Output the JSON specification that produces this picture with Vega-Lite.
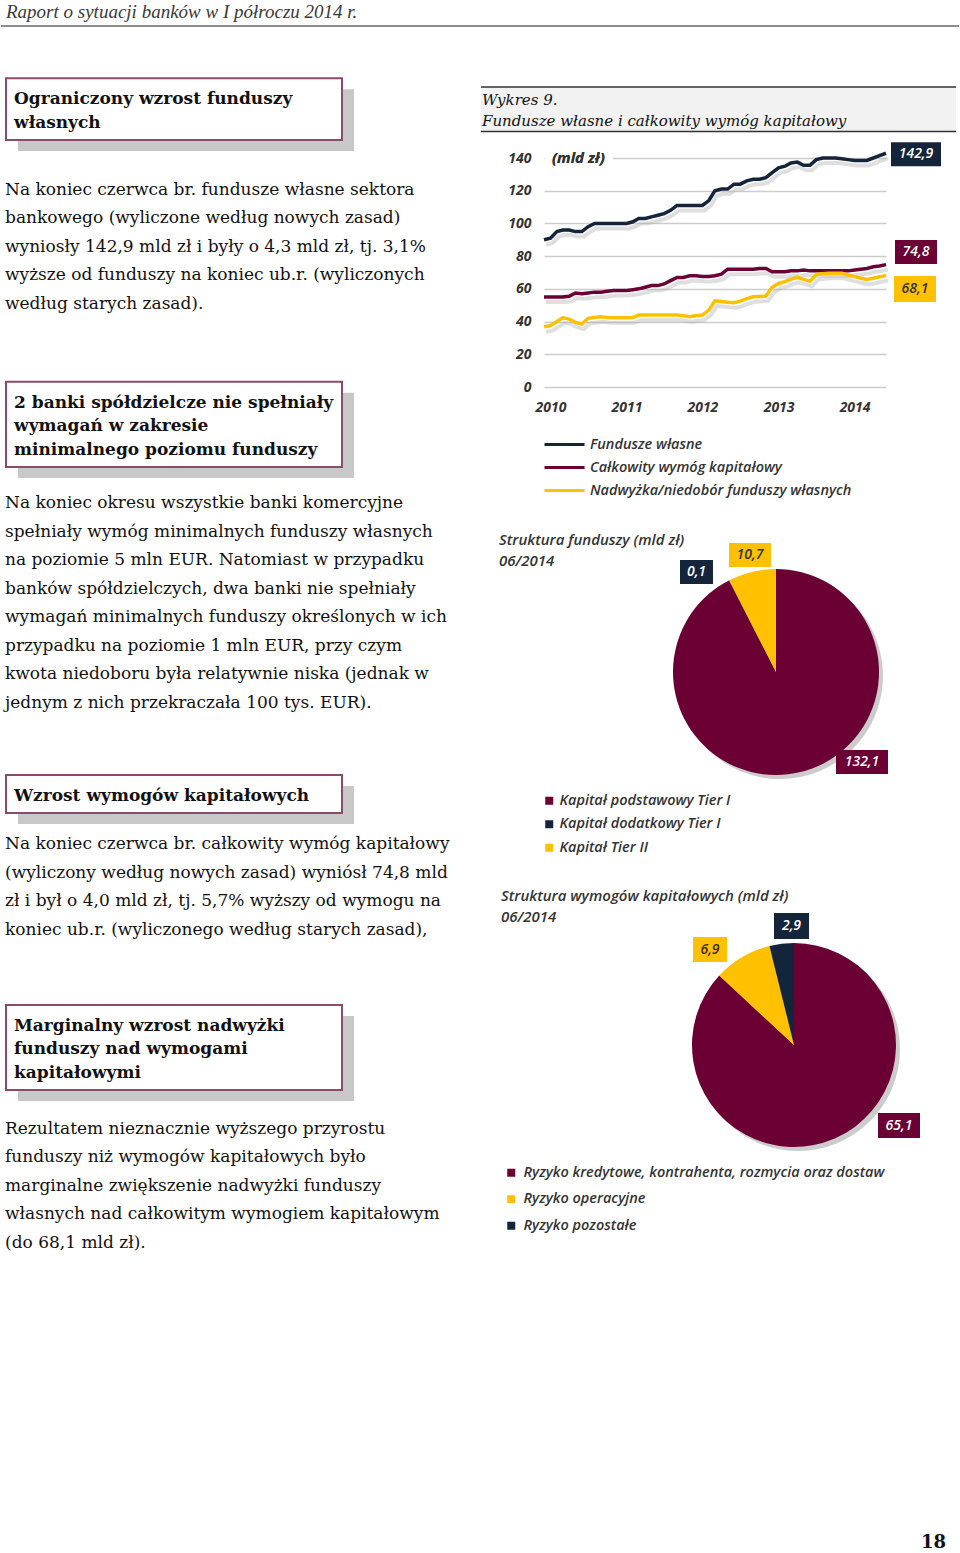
{
  "$schema": "https://vega.github.io/schema/vega-lite/v6.json",
  "background": "white",
  "padding": 0,
  "spacing": 68,
  "bounds": "flush",
  "config": {
    "view": {"stroke": null},
    "locale": {"number": {"decimal": ",", "thousands": " ", "grouping": [3], "currency": ["", " zł"]}}
  },
  "datasets": {
    "boxes": [
      {"h": "Ograniczony wzrost funduszy|własnych", "top": -4.095, "bottom": -1.93},
      {"h": "2 banki spółdzielcze nie spełniały|wymagań w zakresie|minimalnego poziomu funduszy", "top": 6.551, "bottom": 9.544},
      {"h": "Wzrost wymogów kapitałowych", "top": 20.351, "bottom": 21.684},
      {"h": "Marginalny wzrost nadwyżki|funduszy nad wymogami|kapitałowymi", "top": 28.421, "bottom": 31.404}
    ],
    "paras": [
      {"p": "Na koniec czerwca br. fundusze własne sektora|bankowego (wyliczone według nowych zasad)|wyniosły 142,9 mld zł i były o 4,3 mld zł, tj. 3,1%|wyższe od funduszy na koniec ub.r. (wyliczonych|według starych zasad).", "line": 0},
      {"p": "Na koniec okresu wszystkie banki komercyjne|spełniały wymóg minimalnych funduszy własnych|na poziomie 5 mln EUR. Natomiast w przypadku|banków spółdzielczych, dwa banki nie spełniały|wymagań minimalnych funduszy określonych w ich|przypadku na poziomie 1 mln EUR, przy czym|kwota niedoboru była relatywnie niska (jednak w|jednym z nich przekraczała 100 tys. EUR).", "line": 11},
      {"p": "Na koniec czerwca br. całkowity wymóg kapitałowy|(wyliczony według nowych zasad) wyniósł 74,8 mld|zł i był o 4,0 mld zł, tj. 5,7% wyższy od wymogu na|koniec ub.r. (wyliczonego według starych zasad),", "line": 22.96},
      {"p": "Rezultatem nieznacznie wyższego przyrostu|funduszy niż wymogów kapitałowych było|marginalne zwiększenie nadwyżki funduszy|własnych nad całkowitym wymogiem kapitałowym|(do 68,1 mld zł).", "line": 32.93}
    ],
    "lines": [
      {"d": "2009-12-01", "f": 90, "w": 55, "n": 36.8},
      {"d": "2010-01-01", "f": 91, "w": 55, "n": 37.5},
      {"d": "2010-02-01", "f": 95, "w": 55, "n": 40},
      {"d": "2010-03-01", "f": 96, "w": 55, "n": 42.3},
      {"d": "2010-04-01", "f": 96, "w": 55.5, "n": 41.5},
      {"d": "2010-05-01", "f": 95, "w": 57.5, "n": 39.5},
      {"d": "2010-06-01", "f": 95, "w": 57, "n": 38.5},
      {"d": "2010-07-01", "f": 98, "w": 57.5, "n": 42},
      {"d": "2010-08-01", "f": 100, "w": 58, "n": 42.5},
      {"d": "2010-09-01", "f": 100, "w": 58, "n": 43},
      {"d": "2010-10-01", "f": 100, "w": 58.5, "n": 42.5},
      {"d": "2010-11-01", "f": 100, "w": 59, "n": 42.3},
      {"d": "2010-12-01", "f": 100, "w": 59, "n": 42.3},
      {"d": "2011-01-01", "f": 100, "w": 59, "n": 42.3},
      {"d": "2011-02-01", "f": 101, "w": 59.5, "n": 42.5},
      {"d": "2011-03-01", "f": 103, "w": 60, "n": 44},
      {"d": "2011-04-01", "f": 103, "w": 61, "n": 44},
      {"d": "2011-05-01", "f": 104, "w": 62, "n": 44},
      {"d": "2011-06-01", "f": 105, "w": 62, "n": 44},
      {"d": "2011-07-01", "f": 106, "w": 63, "n": 44},
      {"d": "2011-08-01", "f": 108, "w": 65, "n": 44},
      {"d": "2011-09-01", "f": 111, "w": 67, "n": 44},
      {"d": "2011-10-01", "f": 111, "w": 67, "n": 43.5},
      {"d": "2011-11-01", "f": 111, "w": 68, "n": 43},
      {"d": "2011-12-01", "f": 111, "w": 68, "n": 43.5},
      {"d": "2012-01-01", "f": 111, "w": 67.5, "n": 44},
      {"d": "2012-02-01", "f": 114, "w": 67.5, "n": 47},
      {"d": "2012-03-01", "f": 120, "w": 68, "n": 52.7},
      {"d": "2012-04-01", "f": 121, "w": 69, "n": 52.3},
      {"d": "2012-05-01", "f": 121, "w": 72, "n": 51.8},
      {"d": "2012-06-01", "f": 124, "w": 72, "n": 51.5},
      {"d": "2012-07-01", "f": 124, "w": 72, "n": 52.5},
      {"d": "2012-08-01", "f": 126, "w": 72, "n": 54},
      {"d": "2012-09-01", "f": 127, "w": 72, "n": 55.2},
      {"d": "2012-10-01", "f": 127, "w": 72.5, "n": 55.4},
      {"d": "2012-11-01", "f": 128, "w": 72.5, "n": 55.6},
      {"d": "2012-12-01", "f": 131, "w": 70.5, "n": 61},
      {"d": "2013-01-01", "f": 134, "w": 70.5, "n": 63.3},
      {"d": "2013-02-01", "f": 135, "w": 70.5, "n": 64.5},
      {"d": "2013-03-01", "f": 137, "w": 71, "n": 66},
      {"d": "2013-04-01", "f": 137.5, "w": 71, "n": 67},
      {"d": "2013-05-01", "f": 135.5, "w": 71.5, "n": 65.8},
      {"d": "2013-06-01", "f": 135.5, "w": 71, "n": 64.6},
      {"d": "2013-07-01", "f": 139, "w": 71, "n": 68.8},
      {"d": "2013-08-01", "f": 140, "w": 71, "n": 69.2},
      {"d": "2013-09-01", "f": 140, "w": 71, "n": 69.5},
      {"d": "2013-10-01", "f": 140, "w": 71, "n": 69.5},
      {"d": "2013-11-01", "f": 139.5, "w": 71, "n": 69.5},
      {"d": "2013-12-01", "f": 139, "w": 71, "n": 68.5},
      {"d": "2014-01-01", "f": 138.5, "w": 71.5, "n": 67.5},
      {"d": "2014-02-01", "f": 138.5, "w": 72, "n": 66.5},
      {"d": "2014-03-01", "f": 138.5, "w": 72.5, "n": 65.8},
      {"d": "2014-04-01", "f": 140, "w": 73.5, "n": 66.5},
      {"d": "2014-05-01", "f": 141.5, "w": 74, "n": 67.4},
      {"d": "2014-06-01", "f": 142.9, "w": 74.8, "n": 68.1}
    ],
    "pie1": [
      {"cat": "Kapitał podstawowy Tier I", "v": 132.1, "i": 1},
      {"cat": "Kapitał dodatkowy Tier I", "v": 0.1, "i": 2},
      {"cat": "Kapitał Tier II", "v": 10.7, "i": 3}
    ],
    "pie2": [
      {"cat": "Ryzyko kredytowe, kontrahenta, rozmycia oraz dostaw", "v": 65.1, "i": 1},
      {"cat": "Ryzyko operacyjne", "v": 6.9, "i": 2},
      {"cat": "Ryzyko pozostałe", "v": 2.9, "i": 3}
    ]
  },
  "hconcat": [
    {
      "width": 475,
      "height": 1553,
      "layer": [
        {
          "data": {"values": [{"t": "Raport o sytuacji banków w I półroczu 2014 r."}]},
          "mark": {"type": "text", "align": "left", "baseline": "alphabetic", "font": "Liberation Serif", "fontStyle": "italic", "fontSize": 19, "fill": "#3a3a3a"},
          "encoding": {
            "x": {"datum": 5, "type": "quantitative", "scale": {"domain": [0, 475], "nice": false, "zero": false}, "axis": null},
            "y": {"datum": -6.21, "type": "quantitative", "scale": {"domain": [-6.842, 47.649], "reverse": true, "nice": false, "zero": false}, "axis": null},
            "text": {"field": "t", "type": "nominal"}
          }
        },
        {
          "data": {"values": [{}]},
          "mark": {"type": "rule", "stroke": "#666666", "strokeWidth": 1.5},
          "encoding": {
            "x": {"datum": 0, "type": "quantitative", "scale": {"domain": [0, 475], "nice": false, "zero": false}, "axis": null},
            "x2": {"datum": 958},
            "y": {"datum": -5.93, "type": "quantitative", "scale": {"domain": [-6.842, 47.649], "reverse": true, "nice": false, "zero": false}, "axis": null}
          }
        },
        {
          "data": {"name": "boxes"},
          "mark": {"type": "rect", "fill": "#c8c8c8", "xOffset": 12, "x2Offset": 12, "yOffset": 11, "y2Offset": 11},
          "encoding": {
            "x": {"datum": 5, "type": "quantitative", "scale": {"domain": [0, 475], "nice": false, "zero": false}, "axis": null},
            "x2": {"datum": 341},
            "y": {"field": "top", "type": "quantitative", "scale": {"domain": [-6.842, 47.649], "reverse": true, "nice": false, "zero": false}, "axis": null},
            "y2": {"field": "bottom"}
          }
        },
        {
          "data": {"name": "boxes"},
          "mark": {"type": "rect", "fill": "white", "stroke": "#8c4a6c", "strokeWidth": 2},
          "encoding": {
            "x": {"datum": 5, "type": "quantitative", "scale": {"domain": [0, 475], "nice": false, "zero": false}, "axis": null},
            "x2": {"datum": 341},
            "y": {"field": "top", "type": "quantitative", "scale": {"domain": [-6.842, 47.649], "reverse": true, "nice": false, "zero": false}, "axis": null},
            "y2": {"field": "bottom"}
          }
        },
        {
          "data": {"name": "boxes"},
          "mark": {"type": "text", "align": "left", "baseline": "alphabetic", "lineBreak": "|", "lineHeight": 23.5, "font": "DejaVu Serif", "fontWeight": "bold", "fontSize": 17, "fill": "#111111", "dy": 26},
          "encoding": {
            "x": {"datum": 13, "type": "quantitative", "scale": {"domain": [0, 475], "nice": false, "zero": false}, "axis": null},
            "y": {"field": "top", "type": "quantitative", "scale": {"domain": [-6.842, 47.649], "reverse": true, "nice": false, "zero": false}, "axis": null},
            "text": {"field": "h", "type": "nominal"}
          }
        },
        {
          "data": {"name": "paras"},
          "mark": {"type": "text", "align": "left", "baseline": "alphabetic", "lineBreak": "|", "lineHeight": 28.5, "font": "DejaVu Serif", "fontSize": 17, "fill": "#111111"},
          "encoding": {
            "x": {"datum": 4, "type": "quantitative", "scale": {"domain": [0, 475], "nice": false, "zero": false}, "axis": null},
            "y": {"field": "line", "type": "quantitative", "scale": {"domain": [-6.842, 47.649], "reverse": true, "nice": false, "zero": false}, "axis": null},
            "text": {"field": "p", "type": "nominal"}
          }
        },
        {
          "data": {"values": [{"t": "18"}]},
          "mark": {"type": "text", "align": "right", "baseline": "alphabetic", "font": "DejaVu Serif", "fontWeight": "bold", "fontSize": 18, "fill": "#111111"},
          "encoding": {
            "x": {"datum": 945, "type": "quantitative", "scale": {"domain": [0, 475], "nice": false, "zero": false}, "axis": null},
            "y": {"datum": 47.47, "type": "quantitative", "scale": {"domain": [-6.842, 47.649], "reverse": true, "nice": false, "zero": false}, "axis": null},
            "text": {"field": "t", "type": "nominal"}
          }
        }
      ]
    },
    {
      "spacing": 0,
      "bounds": "flush",
      "vconcat": [
        {
          "width": 415,
          "height": 158,
          "layer": [
            {
              "data": {"values": [{}]},
              "mark": {"type": "rect", "fill": "#f2f2f2"},
              "encoding": {
                "x": {"datum": 480, "type": "quantitative", "scale": {"domain": [543, 958], "nice": false, "zero": false}, "axis": null},
                "x2": {"datum": 955},
                "y": {"datum": 87, "type": "quantitative", "scale": {"domain": [0, 158], "reverse": true, "nice": false, "zero": false}, "axis": null},
                "y2": {"datum": 131}
              }
            },
            {
              "data": {"values": [{}]},
              "mark": {"type": "rule", "stroke": "#333333", "strokeWidth": 1.3},
              "encoding": {
                "x": {"datum": 480, "type": "quantitative", "scale": {"domain": [543, 958], "nice": false, "zero": false}, "axis": null},
                "x2": {"datum": 955},
                "y": {"datum": 87, "type": "quantitative", "scale": {"domain": [0, 158], "reverse": true, "nice": false, "zero": false}, "axis": null}
              }
            },
            {
              "data": {"values": [{}]},
              "mark": {"type": "rule", "stroke": "#333333", "strokeWidth": 1.3},
              "encoding": {
                "x": {"datum": 480, "type": "quantitative", "scale": {"domain": [543, 958], "nice": false, "zero": false}, "axis": null},
                "x2": {"datum": 955},
                "y": {"datum": 131.5, "type": "quantitative", "scale": {"domain": [0, 158], "reverse": true, "nice": false, "zero": false}, "axis": null}
              }
            },
            {
              "data": {"values": [{"t": "Wykres 9.|Fundusze własne i całkowity wymóg kapitałowy"}]},
              "mark": {"type": "text", "align": "left", "baseline": "alphabetic", "lineBreak": "|", "lineHeight": 20.5, "font": "DejaVu Serif", "fontStyle": "italic", "fontSize": 15, "fill": "#111111"},
              "encoding": {
                "x": {"datum": 481, "type": "quantitative", "scale": {"domain": [543, 958], "nice": false, "zero": false}, "axis": null},
                "y": {"datum": 105, "type": "quantitative", "scale": {"domain": [0, 158], "reverse": true, "nice": false, "zero": false}, "axis": null},
                "text": {"field": "t", "type": "nominal"}
              }
            }
          ]
        },
        {
          "width": 342,
          "height": 229,
          "data": {"name": "lines"},
          "transform": [{"fold": ["f", "w", "n"], "as": ["series", "v"]}],
          "encoding": {
            "x": {"field": "d", "type": "temporal", "scale": {"nice": false},
              "axis": {"format": "%Y", "tickCount": {"interval": "year", "step": 1}, "title": null, "domain": false, "ticks": false, "grid": false, "labelFlush": false, "labelOverlap": false, "labelFont": "Open Sans", "labelFontStyle": "italic", "labelFontWeight": "bold", "labelFontSize": 14, "labelColor": "#333333", "labelPadding": 13}},
            "y": {"field": "v", "type": "quantitative", "scale": {"domain": [0, 140], "nice": false},
              "axis": {"values": [0, 20, 40, 60, 80, 100, 120, 140], "tickCount": 8, "labelOverlap": false, "title": null, "domain": false, "ticks": false, "grid": true, "gridColor": "#cccccc", "gridWidth": 1.5, "labelFont": "Open Sans", "labelFontStyle": "italic", "labelFontWeight": "bold", "labelFontSize": 14, "labelColor": "#333333", "labelPadding": 13}}
          },
          "layer": [
            {
              "mark": {"type": "line", "stroke": "#b0b0b0", "strokeWidth": 4, "opacity": 0.4, "xOffset": 2, "yOffset": 5},
              "encoding": {"detail": {"field": "series", "type": "nominal"}}
            },
            {
              "mark": {"type": "line", "strokeWidth": 3.5},
              "encoding": {
                "color": {"field": "series", "type": "nominal",
                  "scale": {"domain": ["f", "w", "n"], "range": ["#14253b", "#6a0033", "#ffc000"]},
                  "legend": {"orient": "none", "legendX": 552, "legendY": 433, "direction": "vertical", "title": null, "symbolType": "M-2,0H2", "symbolSize": 400, "symbolStrokeWidth": 3, "labelFont": "Open Sans", "labelFontStyle": "italic", "labelFontWeight": 600, "labelFontSize": 14.5, "labelColor": "#333333", "labelOffset": 14, "rowPadding": 5, "padding": 0, "labelLimit": 400,
                    "labelExpr": "datum.value == 'f' ? 'Fundusze własne' : datum.value == 'w' ? 'Całkowity wymóg kapitałowy' : 'Nadwyżka/niedobór funduszy własnych'"}}
              }
            },
            {
              "transform": [{"filter": "time(datum.d) < time(datetime(2010, 0, 15)) && datum.series == 'f'"}],
              "mark": {"type": "rect", "fill": "white", "yOffset": -9, "y2Offset": 9},
              "encoding": {
                "x": {"datum": {"year": 2009, "month": 12, "date": 7}, "type": "temporal"},
                "x2": {"datum": {"year": 2010, "month": 10, "date": 28}},
                "y": {"datum": 140, "type": "quantitative"},
                "y2": {"datum": 140}
              }
            },
            {
              "transform": [{"filter": "time(datum.d) < time(datetime(2010, 0, 15)) && datum.series == 'f'"}],
              "mark": {"type": "text", "align": "center", "baseline": "middle", "font": "Open Sans", "fontStyle": "italic", "fontWeight": "bold", "fontSize": 15, "fill": "#333333", "text": "(mld zł)"},
              "encoding": {
                "x": {"datum": {"year": 2010, "month": 5, "date": 15}, "type": "temporal"},
                "y": {"datum": 140, "type": "quantitative"}
              }
            },
            {
              "transform": [{"filter": "time(datum.d) > time(datetime(2014, 4, 15)) && datum.series == 'f'"}],
              "layer": [
                {
                  "mark": {"type": "rect", "fill": "#14253b", "xOffset": 5, "x2Offset": 55, "yOffset": -11, "y2Offset": 13},
                  "encoding": {"x2": {"field": "d"}, "y2": {"field": "v"}}
                },
                {
                  "mark": {"type": "text", "fill": "white", "dx": 30, "dy": 1, "align": "center", "baseline": "middle", "font": "Open Sans", "fontStyle": "italic", "fontWeight": 600, "fontSize": 14},
                  "encoding": {"text": {"field": "v", "type": "quantitative", "format": ".1f"}}
                }
              ]
            },
            {
              "transform": [{"filter": "time(datum.d) > time(datetime(2014, 4, 15)) && datum.series == 'w'"}],
              "layer": [
                {
                  "mark": {"type": "rect", "fill": "#6a0033", "xOffset": 9, "x2Offset": 51, "yOffset": -24.6, "y2Offset": -0.6},
                  "encoding": {"x2": {"field": "d"}, "y2": {"field": "v"}}
                },
                {
                  "mark": {"type": "text", "fill": "white", "dx": 30, "dy": -12.6, "align": "center", "baseline": "middle", "font": "Open Sans", "fontStyle": "italic", "fontWeight": 600, "fontSize": 14},
                  "encoding": {"text": {"field": "v", "type": "quantitative", "format": ".1f"}}
                }
              ]
            },
            {
              "transform": [{"filter": "time(datum.d) > time(datetime(2014, 4, 15)) && datum.series == 'n'"}],
              "layer": [
                {
                  "mark": {"type": "rect", "fill": "#ffc000", "xOffset": 8, "x2Offset": 50, "yOffset": 0.4, "y2Offset": 26.4},
                  "encoding": {"x2": {"field": "d"}, "y2": {"field": "v"}}
                },
                {
                  "mark": {"type": "text", "fill": "#333333", "dx": 29, "dy": 13.4, "align": "center", "baseline": "middle", "font": "Open Sans", "fontStyle": "italic", "fontWeight": 600, "fontSize": 14},
                  "encoding": {"text": {"field": "v", "type": "quantitative", "format": ".1f"}}
                }
              ]
            }
          ]
        },
        {
          "width": 415,
          "height": 1166,
          "resolve": {"scale": {"theta": "independent", "color": "independent"}, "legend": {"color": "independent"}},
          "layer": [
            {
              "data": {"values": [{"v": 1}]},
              "mark": {"type": "arc", "outerRadius": 103, "fill": "#cccccc"},
              "encoding": {
                "theta": {"field": "v", "type": "quantitative"},
                "x": {"datum": 779, "type": "quantitative", "scale": {"domain": [543, 958], "nice": false, "zero": false}, "axis": null},
                "y": {"datum": 676, "type": "quantitative", "scale": {"domain": [387, 1553], "reverse": true, "nice": false, "zero": false}, "axis": null}
              }
            },
            {
              "data": {"name": "pie1"},
              "mark": {"type": "arc", "outerRadius": 103},
              "encoding": {
                "theta": {"field": "v", "type": "quantitative"},
                "order": {"field": "i", "type": "quantitative"},
                "color": {"field": "cat", "type": "nominal",
                  "scale": {"domain": ["Kapitał podstawowy Tier I", "Kapitał dodatkowy Tier I", "Kapitał Tier II"], "range": ["#6a0033", "#14253b", "#ffc000"]},
                  "legend": {"orient": "none", "legendX": -2, "legendY": 406.5, "direction": "vertical", "title": null, "symbolType": "square", "symbolSize": 64, "symbolStrokeWidth": 0, "labelFont": "Open Sans", "labelFontStyle": "italic", "labelFontWeight": 600, "labelFontSize": 14.5, "labelColor": "#333333", "labelOffset": 3, "rowPadding": 8.5, "padding": 0, "labelLimit": 500}},
                "x": {"datum": 775, "type": "quantitative", "scale": {"domain": [543, 958], "nice": false, "zero": false}, "axis": null},
                "y": {"datum": 672, "type": "quantitative", "scale": {"domain": [387, 1553], "reverse": true, "nice": false, "zero": false}, "axis": null}
              }
            },
            {
              "data": {"values": [{"v": 1}]},
              "mark": {"type": "arc", "outerRadius": 102, "fill": "#cccccc"},
              "encoding": {
                "theta": {"field": "v", "type": "quantitative"},
                "x": {"datum": 797, "type": "quantitative", "scale": {"domain": [543, 958], "nice": false, "zero": false}, "axis": null},
                "y": {"datum": 1049, "type": "quantitative", "scale": {"domain": [387, 1553], "reverse": true, "nice": false, "zero": false}, "axis": null}
              }
            },
            {
              "data": {"name": "pie2"},
              "mark": {"type": "arc", "outerRadius": 102},
              "encoding": {
                "theta": {"field": "v", "type": "quantitative"},
                "order": {"field": "i", "type": "quantitative"},
                "color": {"field": "cat", "type": "nominal",
                  "scale": {"domain": ["Ryzyko kredytowe, kontrahenta, rozmycia oraz dostaw", "Ryzyko operacyjne", "Ryzyko pozostałe"], "range": ["#6a0033", "#ffc000", "#14253b"]},
                  "legend": {"orient": "none", "legendX": -40, "legendY": 778.5, "direction": "vertical", "title": null, "symbolType": "square", "symbolSize": 64, "symbolStrokeWidth": 0, "labelFont": "Open Sans", "labelFontStyle": "italic", "labelFontWeight": 600, "labelFontSize": 14.5, "labelColor": "#333333", "labelOffset": 5, "rowPadding": 11.5, "padding": 0, "labelLimit": 500}},
                "x": {"datum": 793, "type": "quantitative", "scale": {"domain": [543, 958], "nice": false, "zero": false}, "axis": null},
                "y": {"datum": 1045, "type": "quantitative", "scale": {"domain": [387, 1553], "reverse": true, "nice": false, "zero": false}, "axis": null}
              }
            },
            {
              "data": {"name": "pie1"},
              "transform": [{"filter": "datum.i == 1"}],
              "layer": [
                {"mark": {"type": "rect", "fill": "#6a0033"},
                 "encoding": {"x": {"datum": 835, "type": "quantitative", "scale": {"domain": [543, 958], "nice": false, "zero": false}, "axis": null}, "x2": {"datum": 887},
                   "y": {"datum": 750, "type": "quantitative", "scale": {"domain": [387, 1553], "reverse": true, "nice": false, "zero": false}, "axis": null}, "y2": {"datum": 774}}},
                {"mark": {"type": "text", "fill": "white", "font": "Open Sans", "fontStyle": "italic", "fontWeight": 600, "fontSize": 14, "align": "center", "baseline": "middle"},
                 "encoding": {"x": {"datum": 861, "type": "quantitative", "scale": {"domain": [543, 958], "nice": false, "zero": false}, "axis": null},
                   "y": {"datum": 762, "type": "quantitative", "scale": {"domain": [387, 1553], "reverse": true, "nice": false, "zero": false}, "axis": null},
                   "text": {"field": "v", "type": "quantitative", "format": ".1f"}}}
              ]
            },
            {
              "data": {"name": "pie1"},
              "transform": [{"filter": "datum.i == 2"}],
              "layer": [
                {"mark": {"type": "rect", "fill": "#14253b"},
                 "encoding": {"x": {"datum": 679, "type": "quantitative", "scale": {"domain": [543, 958], "nice": false, "zero": false}, "axis": null}, "x2": {"datum": 712},
                   "y": {"datum": 560, "type": "quantitative", "scale": {"domain": [387, 1553], "reverse": true, "nice": false, "zero": false}, "axis": null}, "y2": {"datum": 584}}},
                {"mark": {"type": "text", "fill": "white", "font": "Open Sans", "fontStyle": "italic", "fontWeight": 600, "fontSize": 14, "align": "center", "baseline": "middle"},
                 "encoding": {"x": {"datum": 695.5, "type": "quantitative", "scale": {"domain": [543, 958], "nice": false, "zero": false}, "axis": null},
                   "y": {"datum": 572, "type": "quantitative", "scale": {"domain": [387, 1553], "reverse": true, "nice": false, "zero": false}, "axis": null},
                   "text": {"field": "v", "type": "quantitative", "format": ".1f"}}}
              ]
            },
            {
              "data": {"name": "pie1"},
              "transform": [{"filter": "datum.i == 3"}],
              "layer": [
                {"mark": {"type": "rect", "fill": "#ffc000"},
                 "encoding": {"x": {"datum": 728, "type": "quantitative", "scale": {"domain": [543, 958], "nice": false, "zero": false}, "axis": null}, "x2": {"datum": 770},
                   "y": {"datum": 543, "type": "quantitative", "scale": {"domain": [387, 1553], "reverse": true, "nice": false, "zero": false}, "axis": null}, "y2": {"datum": 567}}},
                {"mark": {"type": "text", "fill": "#333333", "font": "Open Sans", "fontStyle": "italic", "fontWeight": 600, "fontSize": 14, "align": "center", "baseline": "middle"},
                 "encoding": {"x": {"datum": 749, "type": "quantitative", "scale": {"domain": [543, 958], "nice": false, "zero": false}, "axis": null},
                   "y": {"datum": 555, "type": "quantitative", "scale": {"domain": [387, 1553], "reverse": true, "nice": false, "zero": false}, "axis": null},
                   "text": {"field": "v", "type": "quantitative", "format": ".1f"}}}
              ]
            },
            {
              "data": {"name": "pie2"},
              "transform": [{"filter": "datum.i == 1"}],
              "layer": [
                {"mark": {"type": "rect", "fill": "#6a0033"},
                 "encoding": {"x": {"datum": 877, "type": "quantitative", "scale": {"domain": [543, 958], "nice": false, "zero": false}, "axis": null}, "x2": {"datum": 919},
                   "y": {"datum": 1113, "type": "quantitative", "scale": {"domain": [387, 1553], "reverse": true, "nice": false, "zero": false}, "axis": null}, "y2": {"datum": 1138}}},
                {"mark": {"type": "text", "fill": "white", "font": "Open Sans", "fontStyle": "italic", "fontWeight": 600, "fontSize": 14, "align": "center", "baseline": "middle"},
                 "encoding": {"x": {"datum": 898, "type": "quantitative", "scale": {"domain": [543, 958], "nice": false, "zero": false}, "axis": null},
                   "y": {"datum": 1125.5, "type": "quantitative", "scale": {"domain": [387, 1553], "reverse": true, "nice": false, "zero": false}, "axis": null},
                   "text": {"field": "v", "type": "quantitative", "format": ".1f"}}}
              ]
            },
            {
              "data": {"name": "pie2"},
              "transform": [{"filter": "datum.i == 2"}],
              "layer": [
                {"mark": {"type": "rect", "fill": "#ffc000"},
                 "encoding": {"x": {"datum": 692, "type": "quantitative", "scale": {"domain": [543, 958], "nice": false, "zero": false}, "axis": null}, "x2": {"datum": 726},
                   "y": {"datum": 937, "type": "quantitative", "scale": {"domain": [387, 1553], "reverse": true, "nice": false, "zero": false}, "axis": null}, "y2": {"datum": 962}}},
                {"mark": {"type": "text", "fill": "#333333", "font": "Open Sans", "fontStyle": "italic", "fontWeight": 600, "fontSize": 14, "align": "center", "baseline": "middle"},
                 "encoding": {"x": {"datum": 709, "type": "quantitative", "scale": {"domain": [543, 958], "nice": false, "zero": false}, "axis": null},
                   "y": {"datum": 949.5, "type": "quantitative", "scale": {"domain": [387, 1553], "reverse": true, "nice": false, "zero": false}, "axis": null},
                   "text": {"field": "v", "type": "quantitative", "format": ".1f"}}}
              ]
            },
            {
              "data": {"name": "pie2"},
              "transform": [{"filter": "datum.i == 3"}],
              "layer": [
                {"mark": {"type": "rect", "fill": "#14253b"},
                 "encoding": {"x": {"datum": 773, "type": "quantitative", "scale": {"domain": [543, 958], "nice": false, "zero": false}, "axis": null}, "x2": {"datum": 808},
                   "y": {"datum": 913, "type": "quantitative", "scale": {"domain": [387, 1553], "reverse": true, "nice": false, "zero": false}, "axis": null}, "y2": {"datum": 939}}},
                {"mark": {"type": "text", "fill": "white", "font": "Open Sans", "fontStyle": "italic", "fontWeight": 600, "fontSize": 14, "align": "center", "baseline": "middle"},
                 "encoding": {"x": {"datum": 790.5, "type": "quantitative", "scale": {"domain": [543, 958], "nice": false, "zero": false}, "axis": null},
                   "y": {"datum": 926, "type": "quantitative", "scale": {"domain": [387, 1553], "reverse": true, "nice": false, "zero": false}, "axis": null},
                   "text": {"field": "v", "type": "quantitative", "format": ".1f"}}}
              ]
            },
            {
              "data": {"values": [{"t": "Struktura funduszy (mld zł)|06/2014"}]},
              "mark": {"type": "text", "align": "left", "baseline": "alphabetic", "lineBreak": "|", "lineHeight": 21, "font": "Open Sans", "fontStyle": "italic", "fontWeight": 600, "fontSize": 15, "fill": "#333333"},
              "encoding": {
                "x": {"datum": 498, "type": "quantitative", "scale": {"domain": [543, 958], "nice": false, "zero": false}, "axis": null},
                "y": {"datum": 545, "type": "quantitative", "scale": {"domain": [387, 1553], "reverse": true, "nice": false, "zero": false}, "axis": null},
                "text": {"field": "t", "type": "nominal"}
              }
            },
            {
              "data": {"values": [{"t": "Struktura wymogów kapitałowych (mld zł)|06/2014"}]},
              "mark": {"type": "text", "align": "left", "baseline": "alphabetic", "lineBreak": "|", "lineHeight": 21.5, "font": "Open Sans", "fontStyle": "italic", "fontWeight": 600, "fontSize": 15, "fill": "#333333"},
              "encoding": {
                "x": {"datum": 500, "type": "quantitative", "scale": {"domain": [543, 958], "nice": false, "zero": false}, "axis": null},
                "y": {"datum": 900.5, "type": "quantitative", "scale": {"domain": [387, 1553], "reverse": true, "nice": false, "zero": false}, "axis": null},
                "text": {"field": "t", "type": "nominal"}
              }
            }
          ]
        }
      ]
    }
  ]
}
